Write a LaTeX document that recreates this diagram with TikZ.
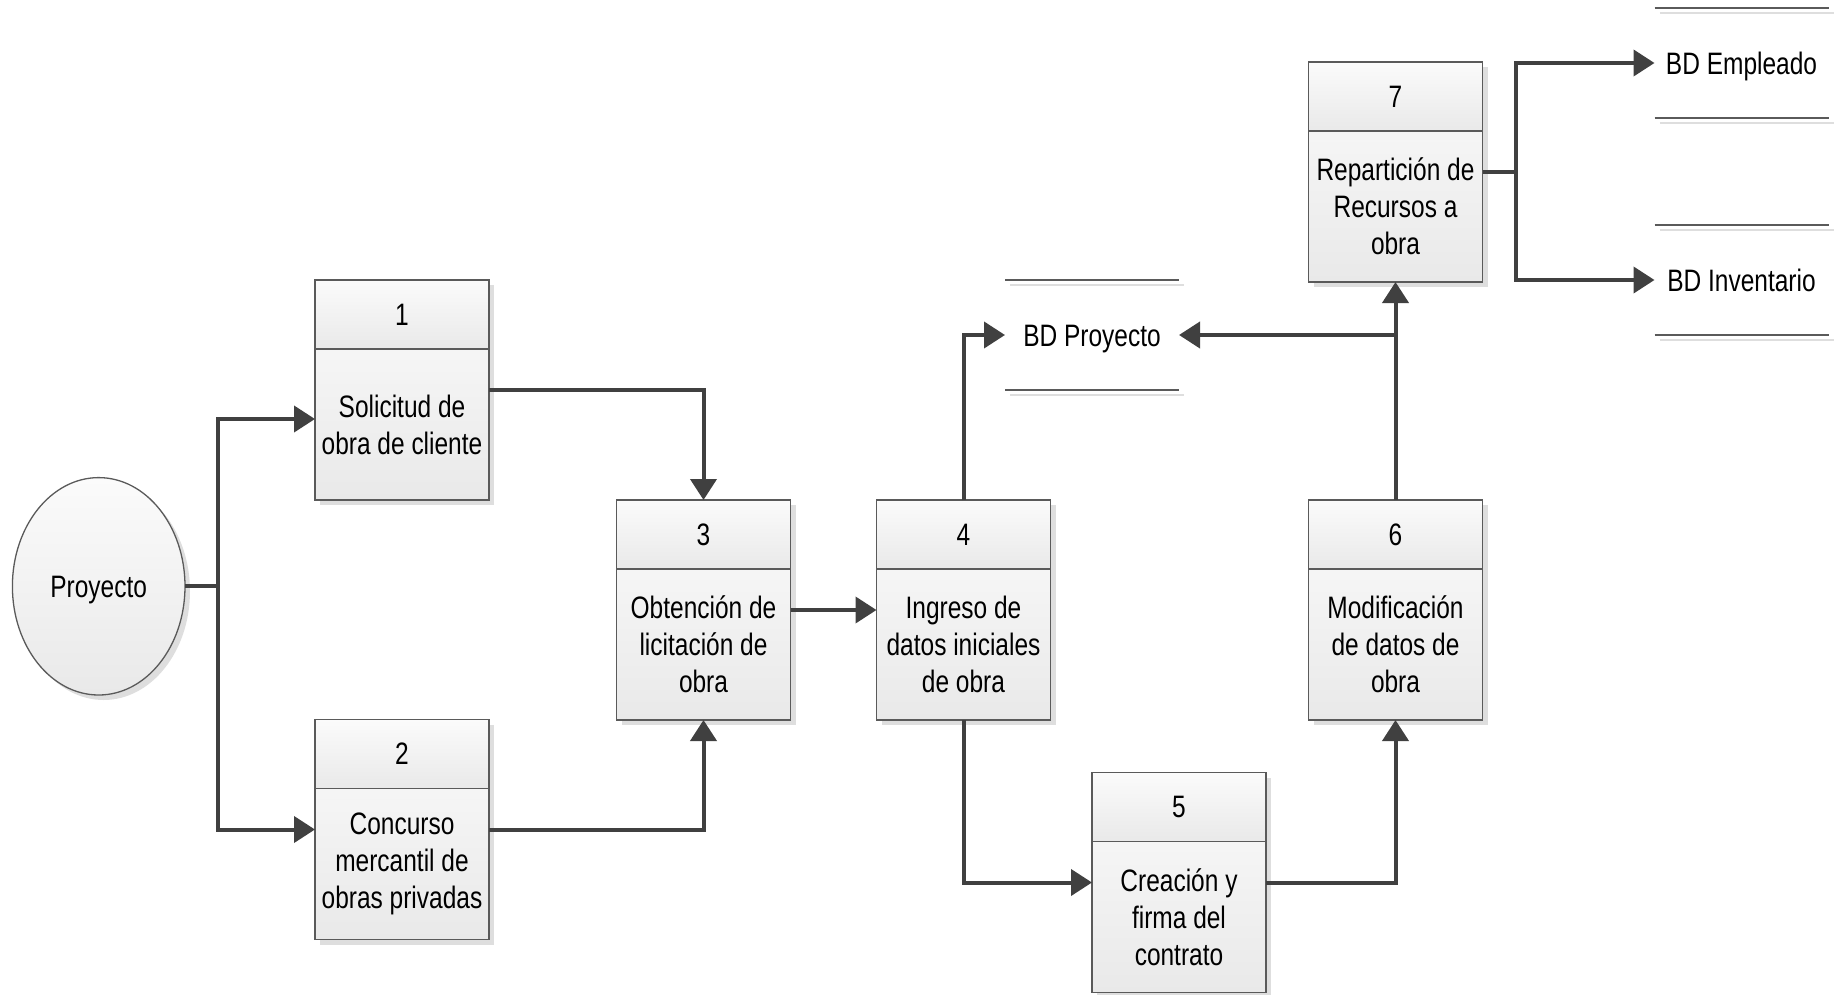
\documentclass[tikz,border=0pt]{standalone}
\usepackage{fontspec}
\setmainfont{Liberation Sans}[FakeStretch=0.79]
\usetikzlibrary{arrows.meta,shapes.geometric,shadows}

\definecolor{flowc}{HTML}{404040}
\definecolor{edgec}{HTML}{5A5A5A}
\definecolor{shadc}{HTML}{DEDEDE}
\definecolor{topc}{HTML}{FBFBFB}
\definecolor{botc}{HTML}{E9E9E9}

\tikzset{
  boxshadow/.style={general shadow={fill=shadc, shadow xshift=5pt, shadow yshift=-5pt}},
  procbox/.style={draw=edgec, line width=1.3pt, minimum width=174pt, minimum height=220pt,
    inner sep=0pt, outer sep=0pt, top color=topc, bottom color=botc, boxshadow},
  prochead/.style={draw=edgec, line width=1.3pt, minimum width=174pt, minimum height=69pt,
    inner sep=0pt, outer sep=0pt, top color=topc, bottom color=botc, anchor=north,
    font=\fontsize{31}{37}\selectfont},
  proctext/.style={align=center, inner sep=0pt, font=\fontsize{31}{37}\selectfont},
  entity/.style={ellipse, draw=edgec, line width=1.3pt, minimum width=172.6pt, minimum height=217.4pt,
    inner sep=0pt, outer sep=0pt, top color=topc, bottom color=botc, boxshadow,
    text height=28pt, text depth=5pt, font=\fontsize{31}{37}\selectfont},
  store/.style={minimum width=174pt, minimum height=110pt, inner sep=0pt, outer sep=0pt,
    text height=28pt, text depth=5pt, font=\fontsize{31}{37}\selectfont},
  storeline/.style={draw=edgec, line width=1.3pt},
  storeshade/.style={draw=shadc, line width=1.3pt},
  wire/.style={draw=flowc, line width=4pt},
  flow/.style={wire, -{Triangle[length=21pt,width=26pt]}},
}

% two horizontal rules (with their light offset shade) above and below a store
\newcommand{\storelines}[1]{%
  \draw[storeshade] ([xshift=5pt,yshift=-5pt]#1.north west) -- ([xshift=5pt,yshift=-5pt]#1.north east);
  \draw[storeshade] ([xshift=5pt,yshift=-5pt]#1.south west) -- ([xshift=5pt,yshift=-5pt]#1.south east);
  \draw[storeline] (#1.north west) -- (#1.north east);
  \draw[storeline] (#1.south west) -- (#1.south east);
}

% process box: name, centre, number, description
\newcommand{\procnode}[4]{%
  \node[procbox] (#1) at (#2) {};
  \node[prochead] (#1h) at (#1.north) {#3};
  \path (#1h.south) -- (#1.south) node[midway, proctext] (#1t) {#4};
}

\begin{document}
\begin{tikzpicture}[x=1pt, y=-1pt]
  \useasboundingbox (0,0) rectangle (1838,995);

  % external entity
  \node[entity] (ent) at (98.7,586.3) {Proyecto};

  % processes
  \procnode{p1}{402,390}{1}{Solicitud de\\obra de cliente}
  \procnode{p2}{402,829.5}{2}{Concurso\\mercantil de\\obras privadas}
  \procnode{p3}{703.5,610}{3}{Obtención de\\licitación de\\obra}
  \procnode{p4}{963.5,610}{4}{Ingreso de\\datos iniciales\\de obra}
  \procnode{p5}{1179,882.5}{5}{Creación y\\firma del\\contrato}
  \procnode{p6}{1395.5,610}{6}{Modificación\\de datos de\\obra}
  \procnode{p7}{1395.5,172}{7}{Repartición de\\Recursos a\\obra}

  % data stores
  \node[store] (bdp) at (1092,335) {BD Proyecto};
  \node[store] (bde) at (1741.5,63) {BD Empleado};
  \node[store] (bdi) at (1741.5,280) {BD Inventario};
  \storelines{bdp}
  \storelines{bde}
  \storelines{bdi}

  % junction points
  \coordinate (j1) at (218.3,586.3);
  \coordinate (j2) at (p6.north |- bdp.east);
  \coordinate (j3) at (1515.6,172);

  % data flows
  \draw[wire] (ent.east) -- (j1);
  \draw[flow] (j1) |- (p1.west |- 0,419);
  \draw[flow] (j1) |- (p2.west);
  \draw[flow] (p1.east) -| (p3.north);
  \draw[flow] (p2.east) -| (p3.south);
  \draw[flow] (p3.east) -- (p4.west);
  \draw[flow] (p4.north) |- (bdp.west);
  \draw[flow] (p4.south) |- (p5.west);
  \draw[flow] (p5.east) -| (p6.south);
  \draw[flow] (p6.north) -- (p7.south);
  \draw[flow] (j2) -- (bdp.east);
  \draw[wire] (p7.east) -- (j3);
  \draw[flow] (j3) |- (bde.west);
  \draw[flow] (j3) |- (bdi.west);
\end{tikzpicture}
\end{document}
